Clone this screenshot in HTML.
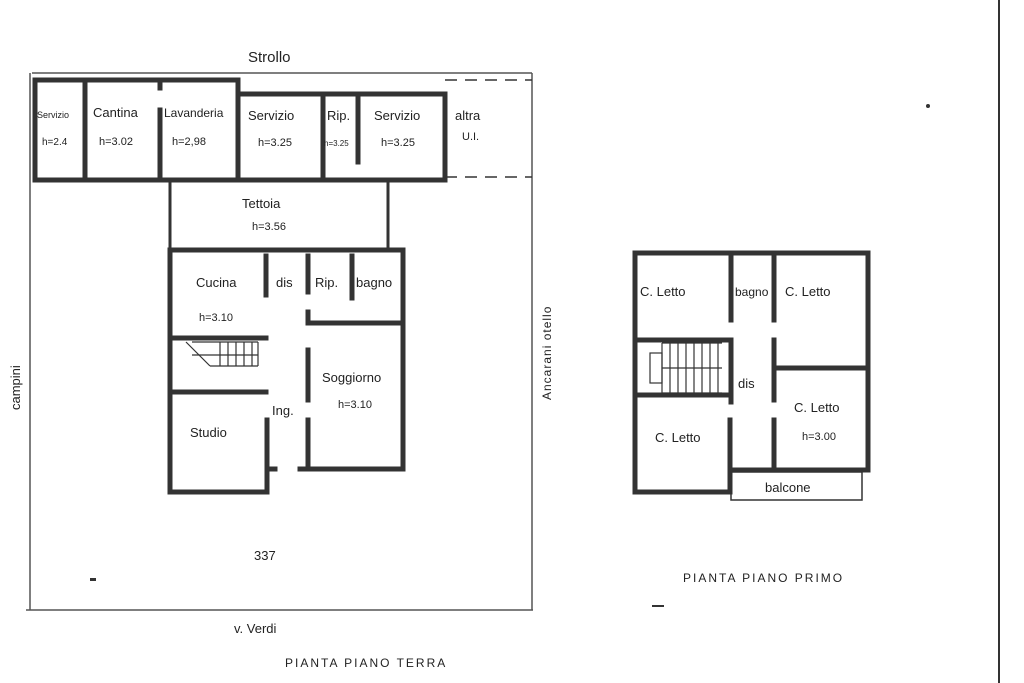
<!DOCTYPE html>
<html><head><meta charset="utf-8"><style>
html,body{margin:0;padding:0;background:#fff;}
svg{display:block}
text{font-family:"Liberation Sans",sans-serif;fill:#222;}
</style></head><body>
<svg width="1024" height="683" viewBox="0 0 1024 683" xmlns="http://www.w3.org/2000/svg">
<rect width="1024" height="683" fill="#fff"/>
<!-- right page edge -->
<line x1="999" y1="0" x2="999" y2="683" stroke="#333" stroke-width="2"/>
<!-- lot boundary -->
<g stroke="#555" stroke-width="1.5" fill="none">
<line x1="32" y1="73" x2="532" y2="73"/>
<line x1="30" y1="73" x2="30" y2="610"/>
<line x1="26" y1="610" x2="533" y2="610"/>
<line x1="532" y1="73" x2="532" y2="610"/>
</g>
<!-- top strip -->
<g stroke="#333" stroke-width="5" fill="none" stroke-linecap="square">
<polyline points="35,180 35,80 238,80 238,94 445,94 445,180"/>
<line x1="35" y1="180" x2="445" y2="180"/>
<line x1="85" y1="80" x2="85" y2="180"/>
<line x1="160" y1="80" x2="160" y2="88"/>
<line x1="160" y1="110" x2="160" y2="180"/>
<line x1="238" y1="94" x2="238" y2="180"/>
<line x1="323" y1="94" x2="323" y2="176"/>
<line x1="358" y1="94" x2="358" y2="162"/>
</g>
<g stroke="#333" stroke-width="1.5" stroke-dasharray="12,8">
<line x1="445" y1="80" x2="532" y2="80"/>
<line x1="445" y1="177" x2="532" y2="177"/>
</g>
<!-- tettoia -->
<g stroke="#333" stroke-width="3" fill="none">
<line x1="170" y1="180" x2="170" y2="250"/>
<line x1="388" y1="180" x2="388" y2="250"/>
</g>
<!-- ground floor house -->
<g stroke="#333" stroke-width="5" fill="none" stroke-linecap="square">
<polyline points="170,250 403,250 403,469 300,469"/>
<polyline points="170,250 170,492 267,492 267,420"/>
<line x1="266" y1="256" x2="266" y2="295"/>
<line x1="308" y1="256" x2="308" y2="292"/>
<line x1="352" y1="256" x2="352" y2="298"/>
<line x1="308" y1="312" x2="308" y2="323"/>
<line x1="308" y1="323" x2="403" y2="323"/>
<line x1="172" y1="338" x2="266" y2="338"/>
<line x1="172" y1="392" x2="266" y2="392"/>
<line x1="308" y1="350" x2="308" y2="400"/>
<line x1="308" y1="420" x2="308" y2="466"/>
<line x1="267" y1="469" x2="275" y2="469"/>
</g>
<g stroke="#333" stroke-width="1.2" fill="none">
<line x1="192" y1="342" x2="258" y2="342"/>
<line x1="192" y1="355" x2="258" y2="355"/>
<line x1="210" y1="366" x2="258" y2="366"/>
<line x1="220" y1="342" x2="220" y2="366"/><line x1="228" y1="342" x2="228" y2="366"/>
<line x1="236" y1="342" x2="236" y2="366"/><line x1="244" y1="342" x2="244" y2="366"/>
<line x1="252" y1="342" x2="252" y2="366"/><line x1="258" y1="342" x2="258" y2="366"/>
<polyline points="186,342 210,366"/>
</g>
<!-- first floor -->
<g stroke="#333" stroke-width="5" fill="none" stroke-linecap="square">
<polyline points="635,253 868,253 868,470 730,470"/>
<polyline points="635,253 635,492 730,492 730,420"/>
<line x1="731" y1="253" x2="731" y2="320"/>
<line x1="774" y1="253" x2="774" y2="320"/>
<line x1="635" y1="340" x2="731" y2="340"/>
<line x1="635" y1="395" x2="731" y2="395"/>
<line x1="731" y1="340" x2="731" y2="402"/>
<line x1="774" y1="340" x2="774" y2="400"/>
<line x1="774" y1="420" x2="774" y2="470"/>
<line x1="774" y1="368" x2="868" y2="368"/>
</g>
<rect x="731" y="472" width="131" height="28" fill="none" stroke="#333" stroke-width="1.5"/>
<g stroke="#333" stroke-width="1.2" fill="none">
<rect x="650" y="353" width="12" height="30"/>
<line x1="662" y1="343" x2="722" y2="343"/><line x1="662" y1="368" x2="722" y2="368"/><line x1="662" y1="393" x2="722" y2="393"/>
<line x1="662" y1="343" x2="662" y2="393"/><line x1="670" y1="343" x2="670" y2="393"/>
<line x1="678" y1="343" x2="678" y2="393"/><line x1="686" y1="343" x2="686" y2="393"/>
<line x1="694" y1="343" x2="694" y2="393"/><line x1="702" y1="343" x2="702" y2="393"/>
<line x1="710" y1="343" x2="710" y2="393"/><line x1="718" y1="343" x2="718" y2="393"/>
</g>
<!-- labels -->
<g font-size="13">
<text x="248" y="62" font-size="15">Strollo</text>
<text x="37" y="118" font-size="9">Servizio</text>
<text x="42" y="145" font-size="10">h=2.4</text>
<text x="93" y="117">Cantina</text>
<text x="99" y="145" font-size="11">h=3.02</text>
<text x="164" y="117" font-size="12">Lavanderia</text>
<text x="172" y="145" font-size="11">h=2,98</text>
<text x="248" y="120">Servizio</text>
<text x="258" y="146" font-size="11">h=3.25</text>
<text x="327" y="120">Rip.</text>
<text x="324" y="146" font-size="8">h=3.25</text>
<text x="374" y="120">Servizio</text>
<text x="381" y="146" font-size="11">h=3.25</text>
<text x="455" y="120">altra</text>
<text x="462" y="140" font-size="11">U.I.</text>
<text x="242" y="208">Tettoia</text>
<text x="252" y="230" font-size="11">h=3.56</text>
<text x="196" y="287">Cucina</text>
<text x="276" y="287">dis</text>
<text x="315" y="287">Rip.</text>
<text x="356" y="287">bagno</text>
<text x="199" y="321" font-size="11">h=3.10</text>
<text x="322" y="382">Soggiorno</text>
<text x="338" y="408" font-size="11">h=3.10</text>
<text x="272" y="415">Ing.</text>
<text x="190" y="437">Studio</text>
<text x="254" y="560">337</text>
<text x="234" y="633">v.  Verdi</text>
<text x="285" y="667" font-size="12" letter-spacing="2">PIANTA  PIANO  TERRA</text>
<text x="640" y="296">C. Letto</text>
<text x="735" y="296" font-size="12">bagno</text>
<text x="785" y="296">C. Letto</text>
<text x="738" y="388">dis</text>
<text x="794" y="412">C. Letto</text>
<text x="802" y="440" font-size="11">h=3.00</text>
<text x="655" y="442">C. Letto</text>
<text x="765" y="492">balcone</text>
<text x="683" y="582" font-size="12" letter-spacing="2">PIANTA  PIANO  PRIMO</text>
<text transform="translate(20,410) rotate(-90)" font-size="13">campini</text>
<text transform="translate(551,400) rotate(-90)" font-size="12" letter-spacing="1">Ancarani otello</text>
</g>
<rect x="652" y="605" width="12" height="2" fill="#333"/>
<circle cx="928" cy="106" r="2" fill="#333"/>
<rect x="90" y="578" width="6" height="3" fill="#333"/>
</svg>
</body></html>
